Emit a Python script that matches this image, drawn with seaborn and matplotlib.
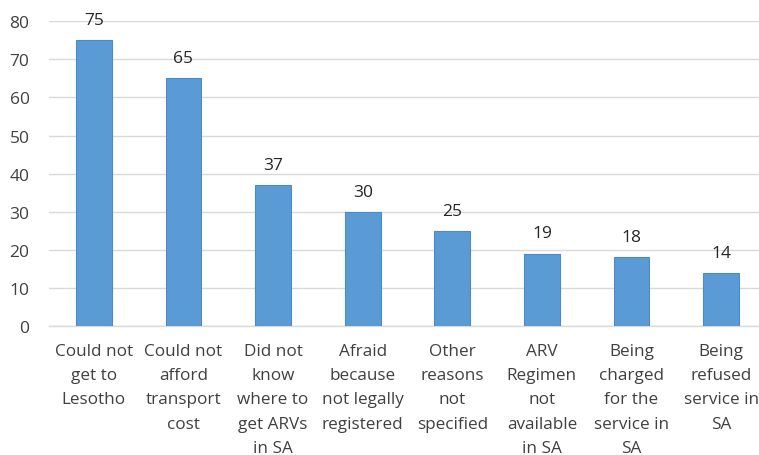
import matplotlib
matplotlib.use("Agg")
import matplotlib.pyplot as plt
import seaborn as sns
import pandas as pd

categories = [
    "Could not\nget to\nLesotho",
    "Could not\nafford\ntransport\ncost",
    "Did not\nknow\nwhere to\nget ARVs\nin SA",
    "Afraid\nbecause\nnot legally\nregistered",
    "Other\nreasons\nnot\nspecified",
    "ARV\nRegimen\nnot\navailable\nin SA",
    "Being\ncharged\nfor the\nservice in\nSA",
    "Being\nrefused\nservice in\nSA",
]
values = [75, 65, 37, 30, 25, 19, 18, 14]
yticks = [0, 10, 20, 30, 40, 50, 60, 70, 80]

sns.set_theme(style="white")
plt.rcParams["font.family"] = ["Open Sans", "DejaVu Sans"]

df = pd.DataFrame({"cat": categories, "val": values})

fig = plt.figure(figsize=(7.59, 4.56), dpi=100)
ax = fig.add_axes([49 / 759, 1 - 327 / 456, 717 / 759, (327 - 22.3) / 456])

sns.barplot(data=df, x="cat", y="val", color="#5B9BD5", saturation=1,
            width=0.40, edgecolor="#4A8ACB", linewidth=0.8, ax=ax, zorder=3)

ax.set_ylim(0, 80)
ax.set_xlim(-0.5, 7.5)
ax.set_yticks(yticks)
ax.set_yticklabels([str(t) for t in yticks])
ax.yaxis.grid(True, color="#D9D9D9", linewidth=1.0, zorder=0)
ax.set_axisbelow(True)
for s in ["top", "right", "left"]:
    ax.spines[s].set_visible(False)
ax.spines["bottom"].set_color("#D9D9D9")
ax.spines["bottom"].set_linewidth(1.0)
ax.set_xlabel("")
ax.set_ylabel("")
ax.tick_params(axis="y", length=0, pad=14, labelsize=12.5, labelcolor="#404040")
ax.tick_params(axis="x", length=0, pad=12, labelsize=12.3, labelcolor="#404040")
for lab in ax.get_xticklabels():
    lab.set_linespacing(1.69)
    lab.set_verticalalignment("top")

for i, v in enumerate(values):
    ax.annotate(str(v), xy=(i, v), xytext=(0, 14.5), textcoords="offset points",
                ha="center", va="center", fontsize=12.5, color="#262626")

fig.savefig("out.png", dpi=100)
